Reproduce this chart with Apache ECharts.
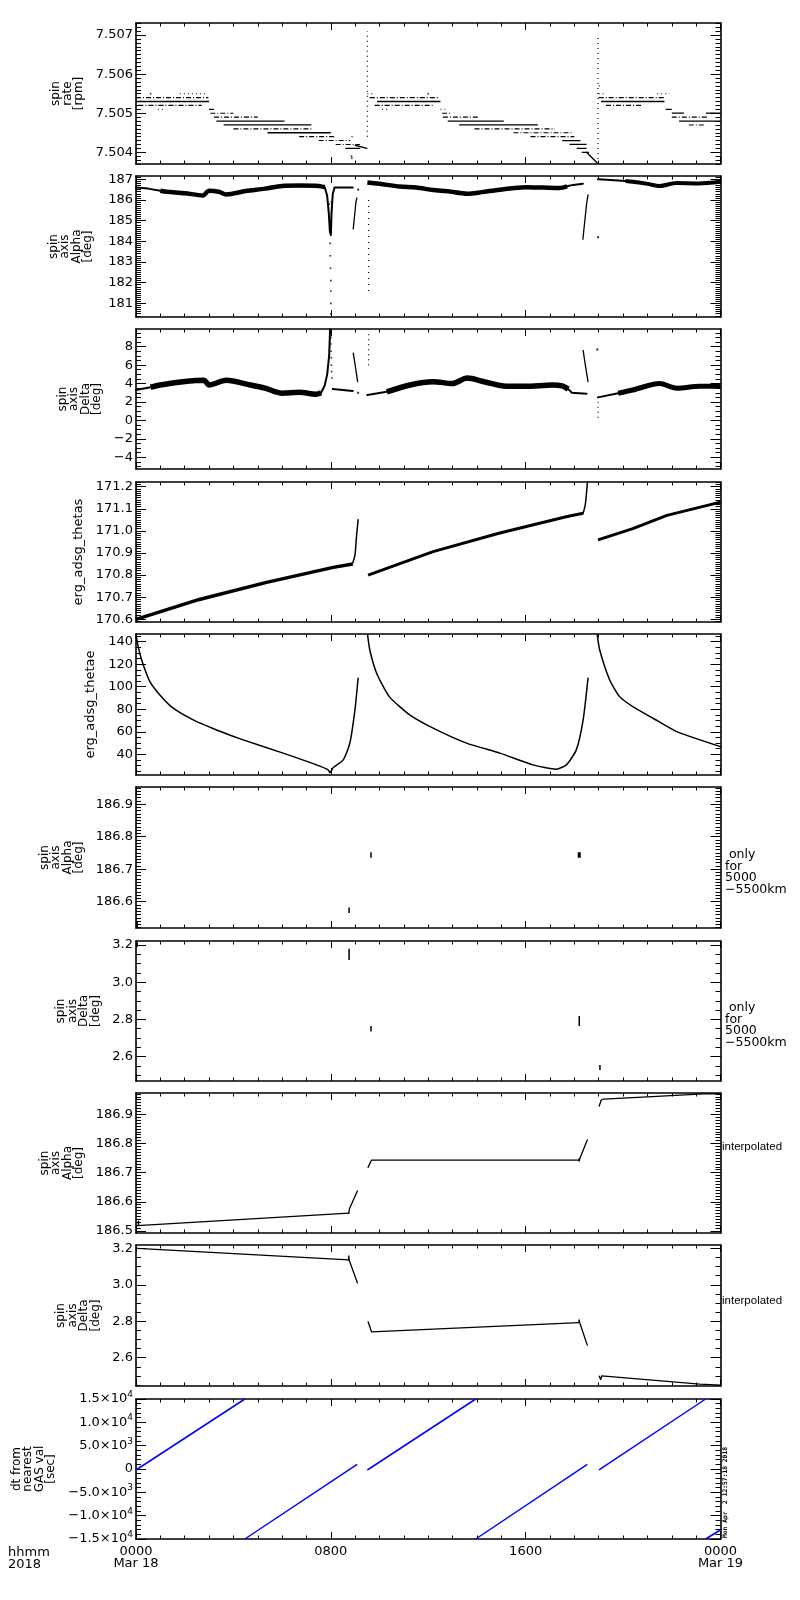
<!DOCTYPE html>
<html><head><meta charset="utf-8">
<script src="https://cdn.jsdelivr.net/npm/echarts@6/dist/echarts.min.js"></script>
<style>html,body{margin:0;padding:0;background:#fff}#c{width:800px;height:1600px}</style>
</head><body><div id="c"></div>
<script>
// ---------------- tick labels / axes data ----------------
const xTickValues = [0, 8, 16, 24];
const xTickLabels = ['0000\nMar 18', '0800', '1600', '0000\nMar 19'];
const panelNames = ['spin\nrate\n[rpm]', 'spin\naxis\nAlpha\n[deg]', 'spin\naxis\nDelta\n[deg]', 'erg_adsg_thetas', 'erg_adsg_thetae',
  'spin\naxis\nAlpha\n[deg]', 'spin\naxis\nDelta\n[deg]', 'spin\naxis\nAlpha\n[deg]', 'spin\naxis\nDelta\n[deg]', 'dt from\nnearest\nGAS val\n[sec]'];
const yMins = [7.5037, 180.34, -5.27, 170.588, 21.6, 186.519, 2.469, 186.493, 2.445, -15000];
const yMaxs = [7.50731, 187.16, 9.92, 171.221, 146.8, 186.953, 3.2215, 186.973, 3.218, 15000];
const yTickValues = [
  [7.504, 7.505, 7.506, 7.507],
  [181, 182, 183, 184, 185, 186, 187],
  [-4, -2, 0, 2, 4, 6, 8],
  [170.6, 170.7, 170.8, 170.9, 171.0, 171.1, 171.2],
  [40, 60, 80, 100, 120, 140],
  [186.6, 186.7, 186.8, 186.9],
  [2.6, 2.8, 3.0, 3.2],
  [186.5, 186.6, 186.7, 186.8, 186.9],
  [2.6, 2.8, 3.0, 3.2],
  [-15000, -10000, -5000, 0, 5000, 10000, 15000]
];
const yTickLabels = [
  ['7.504', '7.505', '7.506', '7.507'],
  ['181', '182', '183', '184', '185', '186', '187'],
  ['−4', '−2', '0', '2', '4', '6', '8'],
  ['170.6', '170.7', '170.8', '170.9', '171.0', '171.1', '171.2'],
  ['40', '60', '80', '100', '120', '140'],
  ['186.6', '186.7', '186.8', '186.9'],
  ['2.6', '2.8', '3.0', '3.2'],
  ['186.5', '186.6', '186.7', '186.8', '186.9'],
  ['2.6', '2.8', '3.0', '3.2'],
  ['−1.5×10^4', '−1.0×10^4', '−5.0×10^3', '0', '5.0×10^3', '1.0×10^4', '1.5×10^4']
];
const yMinorSteps = [0.0001, 0.1, 0.5, 0.01, 5, 0.01, 0.05, 0.01, 0.05, 1000];

// ---------------- panel 1: spin rate [rpm]  ([t0, t1, level]) ----------------
const rateSolid = [
  [0, 3.0, 7.5053], [3.0, 3.2, 7.5051], [3.3, 6.1, 7.5048], [3.6, 7.2, 7.5047], [5.4, 8.0, 7.5045], [8.6, 9.2, 7.5041],
  [9.9, 12.5, 7.5053], [12.8, 15.1, 7.5048], [13.27, 16.5, 7.5047], [17.5, 18.25, 7.5043], [17.8, 18.5, 7.5042],
  [18.1, 18.5, 7.5041], [18.3, 18.6, 7.5040],
  [19.1, 21.7, 7.5053], [21.75, 22.0, 7.5051], [22.0, 22.5, 7.5050], [23.4, 24, 7.5050], [22.3, 24, 7.5048]
];
const rateDashed = [
  [0, 2.97, 7.5054], [0.1, 2.7, 7.5052], [3.05, 4.0, 7.5050], [3.2, 5.0, 7.5049], [4.0, 7.2, 7.5046], [6.7, 8.2, 7.5044],
  [7.5, 8.8, 7.5043], [8.2, 9.2, 7.5042],
  [9.6, 12.45, 7.5054], [9.8, 12.2, 7.5052], [12.57, 12.95, 7.5050], [12.6, 14.1, 7.5049], [13.9, 17.2, 7.5046],
  [15.5, 17.9, 7.5045], [16.2, 18.0, 7.5044],
  [19.0, 21.75, 7.5054], [19.3, 20.8, 7.5052], [22.0, 23.5, 7.5049], [22.7, 23.4, 7.5047]
];
const rateDotted = [
  [1.8, 2.9, 7.5055], [0.9, 1.1, 7.5051], [9.5, 9.75, 7.5055], [10.1, 10.4, 7.5051], [12.5, 12.7, 7.5051],
  [19.0, 19.2, 7.5055], [19.0, 19.1, 7.5057], [21.4, 21.9, 7.5055], [8.85, 8.95, 7.5044]
];
const rateSlopes = [
  [[9.0, 7.50418], [9.48, 7.5041]],
  [[18.5, 7.5040], [18.95, 7.50372]]
];
const rateSpikes = [[9.5, 7.5044, 7.5071], [18.97, 7.5037, 7.5070]];
const rateDots = [[8.85, 7.5039], [8.86, 7.50385], [12.0, 7.5055], [0.6, 7.5055]];

// ---------------- panel 2: spin axis Alpha [deg] ----------------
const alphaThin1 = [[0, 186.6], [0.5, 186.55], [1.0, 186.45]];
const alphaBand1 = [[1.0, 186.45], [1.26, 186.4], [2.0, 186.33], [2.75, 186.22], [3.0, 186.45], [3.4, 186.4],
  [3.7, 186.27], [4.5, 186.43], [5.3, 186.55], [6.0, 186.68], [6.7, 186.7], [7.5, 186.68], [7.75, 186.62]];
const alphaDip = [[7.75, 186.62], [7.85, 186.2], [7.92, 185.3], [7.96, 184.5], [8.0, 184.3], [8.03, 185.4], [8.08, 186.3], [8.15, 186.58]];
const alphaDipDots = [[7.97, 183.9], [7.98, 183.3], [7.99, 182.7], [8.0, 182.1], [8.0, 181.6], [8.0, 181.0], [8.0, 180.5],
  [7.97, 184.6], [7.95, 185.0], [8.01, 184.9], [7.93, 185.8], [8.02, 185.9]];
const alphaFlat1 = [[8.15, 186.6], [8.9, 186.6]];
const alphaSteep1 = [[8.92, 184.6], [8.98, 185.3], [9.03, 185.9], [9.07, 186.1]];
const alphaDots = [[9.12, 186.5], [18.97, 184.2]];
const alphaBand2 = [[9.5, 186.85], [10.0, 186.78], [10.83, 186.65], [11.5, 186.6], [12.2, 186.48], [12.8, 186.42], [13.6, 186.3],
  [14.2, 186.38], [14.93, 186.5], [16.0, 186.62], [16.7, 186.6], [17.4, 186.58], [17.7, 186.66]];
const alphaThin2 = [[17.7, 186.66], [17.95, 186.73], [18.35, 186.79]];
const alphaSteep2 = [[18.35, 184.1], [18.42, 184.9], [18.5, 185.8], [18.56, 186.25]];
const alphaThin3 = [[18.97, 187.0], [19.5, 186.97], [20.1, 186.92]];
const alphaBand3 = [[20.1, 186.92], [20.4, 186.88], [21.0, 186.78], [21.5, 186.68], [22.2, 186.82], [23.1, 186.8], [24, 186.88]];
const alphaSpikes = [[9.55, 181.6, 186.2]];

// ---------------- panel 3: spin axis Delta [deg] ----------------
const deltaThin1 = [[0, 3.3], [0.6, 3.6]];
const deltaBand1 = [[0.6, 3.6], [1.0, 3.85], [2.1, 4.25], [2.8, 4.35], [3.0, 3.85], [3.7, 4.35], [4.7, 3.85], [5.3, 3.5],
  [6.0, 2.95], [6.7, 3.05], [7.4, 2.85], [7.6, 3.0]];
const deltaSpikeUp = [[7.6, 3.0], [7.75, 3.8], [7.85, 5.0], [7.93, 7.0], [7.97, 9.9]];
const deltaSpikeDots = [[8.0, 9.0], [8.0, 8.3], [8.01, 7.5], [8.02, 6.8], [8.02, 6.0], [8.03, 5.3], [8.04, 4.6], [7.98, 8.8], [7.96, 8.0]];
const deltaFlat1 = [[8.08, 3.4], [8.9, 3.2]];
const deltaSteep1 = [[8.92, 7.3], [9.0, 6.0], [9.1, 4.2]];
const deltaDots = [[9.12, 3.0], [18.94, 7.7]];
const deltaSpikes = [[9.55, 6.0, 9.7], [18.97, 0.3, 2.6]];
const deltaThin2 = [[9.5, 2.75], [10.3, 3.1]];
const deltaBand2 = [[10.3, 3.1], [11.25, 3.85], [12.2, 4.2], [13.0, 4.0], [13.6, 4.6], [14.3, 4.2], [15.2, 3.7],
  [16.0, 3.7], [17.1, 3.85], [17.5, 3.75], [17.75, 3.4]];
const deltaThin3 = [[17.75, 3.4], [17.9, 3.0], [18.5, 2.9]];
const deltaSteep2 = [[18.36, 7.6], [18.45, 6.0], [18.56, 4.2]];
const deltaThin4 = [[18.97, 2.5], [19.8, 2.95]];
const deltaBand3 = [[19.8, 2.95], [20.4, 3.3], [21.5, 4.0], [22.2, 3.5], [23.15, 3.7], [24, 3.7]];

// ---------------- panel 4: erg_adsg_thetas ----------------
const thetasSeg1 = [[0, 170.6], [2.6, 170.69], [5.36, 170.767], [8.1, 170.835], [8.9, 170.85]];
const thetasSteep1 = [[8.9, 170.855], [8.99, 170.89], [9.05, 170.97], [9.12, 171.05]];
const thetasSeg2 = [[9.53, 170.8], [12.2, 170.906], [14.9, 170.989], [17.66, 171.064], [18.36, 171.08]];
const thetasSteep2 = [[18.36, 171.08], [18.45, 171.12], [18.52, 171.2], [18.55, 171.24]];
const thetasSeg3 = [[18.97, 170.959], [20.4, 171.01], [21.8, 171.07], [24, 171.13]];

// ---------------- panel 5: erg_adsg_thetae ----------------
const thetaeSeg1 = [[0, 146], [0.05, 140], [0.15, 130], [0.3, 119.3], [0.57, 104.5], [0.98, 92.7], [1.53, 80.9], [2.35, 70.5],
  [3.31, 61.6], [4.4, 52.8], [6.04, 41.0], [7.41, 30.6], [7.89, 26.2], [7.96, 23.5], [8.1, 28.2], [8.51, 35], [8.78, 49.8],
  [8.99, 79.4], [9.12, 107.5]];
const thetaeSeg2 = [[9.51, 146], [9.6, 132.6], [9.88, 112], [10.4, 91.2], [11.24, 75], [12.2, 63.2], [13.57, 49.9], [14.94, 41],
  [16.3, 30.6], [17.26, 26.8], [17.67, 30.6], [18.08, 43.9], [18.36, 70.5], [18.56, 107.5]];
const thetaeSeg3 = [[18.94, 146], [19.04, 132.6], [19.45, 106], [19.86, 91.2], [20.4, 82.3], [21.23, 72], [22.2, 60.1], [24, 46.8]];

// ---------------- panels 6/7: only for 5000-5500km  ([t, low, high]) ----------------
const alphaOnly = [[0.05, 186.522, 186.538], [8.75, 186.565, 186.582], [9.65, 186.735, 186.752], [18.2, 186.735, 186.752]];
const deltaOnly = [[0.05, 3.19, 3.215], [8.75, 3.12, 3.18], [9.65, 2.735, 2.765], [18.2, 2.765, 2.818], [19.05, 2.528, 2.555]];

// ---------------- panel 8: interpolated Alpha ----------------
const alphaInterp1 = [[0.05, 186.518], [8.74, 186.561]];
const alphaInterpSteep1 = [[8.74, 186.561], [8.76, 186.575], [9.09, 186.637]];
const alphaInterp2 = [[9.53, 186.718], [9.67, 186.743], [18.2, 186.743]];
const alphaInterpSteep2 = [[18.2, 186.743], [18.53, 186.812]];
const alphaInterp3 = [[19.02, 186.928], [19.1, 186.949], [19.2, 186.952], [21.0, 186.96], [23.3, 186.97], [24, 186.97]];
const alphaInterpTicks = [[0.1, 186.52, 186.535], [18.2, 186.738, 186.75]];

// ---------------- panel 9: interpolated Delta ----------------
const deltaInterp1 = [[0.05, 3.2], [8.74, 3.136]];
const deltaInterpSteep1 = [[8.74, 3.14], [9.09, 3.011]];
const deltaInterp2 = [[9.53, 2.797], [9.67, 2.742], [9.7, 2.752], [18.2, 2.792]];
const deltaInterpSteep2 = [[18.2, 2.8], [18.53, 2.669]];
const deltaInterp3 = [[19.02, 2.499], [19.08, 2.48], [19.12, 2.5], [23.15, 2.455], [24, 2.45]];
const deltaInterpTicks = [[8.74, 3.13, 3.16], [18.2, 2.79, 2.81]];

// ---------------- panel 10: dt from nearest GAS val [sec] ----------------
const dtSegments = [
  [[0, -214], [4.47, 15000]],
  [[4.47, -15000], [9.08, 1000]],
  [[9.5, -214], [13.95, 15000]],
  [[13.95, -15000], [18.53, 1000]],
  [[19.01, -214], [23.39, 15000]],
  [[23.39, -15000], [23.99, -13071]]
];

// ---------------- layout ----------------
const panelTops = [23, 176, 329, 482, 634, 787, 941, 1093, 1245, 1399];
const panelHeights = [141, 141, 140, 140, 141, 141, 140, 140, 141, 140];
const nameGaps = [47, 42, 29, 50, 38, 49, 32, 49, 32, 71];
const FONT = 'DejaVu Sans';
const INK = '#000';

function minorValues(min, max, step) {
  const out = [];
  const k0 = Math.ceil(min / step - 1e-6), k1 = Math.floor(max / step + 1e-6);
  for (let k = k0; k <= k1; k++) out.push(+(k * step).toPrecision(12));
  return out;
}
const hourTicks = minorValues(0, 24, 1);

const grids = [], xAxes = [], yAxes = [], series = [];

function labelFor(list, labels, v) {
  let best = 0, bd = Infinity;
  list.forEach((t, j) => { const d = Math.abs(t - v); if (d < bd) { bd = d; best = j; } });
  return labels[best];
}

for (let i = 0; i < 10; i++) {
  grids.push({ left: 136, width: 584.5, top: panelTops[i], height: panelHeights[i], containLabel: false, outerBoundsMode: 'none' });
  const isLast = i === 9;
  const line = { show: true, onZero: false, lineStyle: { color: INK, width: 1.6 } };
  const noLine = { show: false, onZero: false };
  const tk = (vals, len) => ({ show: true, inside: true, length: len, customValues: vals, lineStyle: { color: INK, width: 1 } });
  const xLabel = isLast ? {
    show: true, customValues: xTickValues, margin: 7, color: INK, fontFamily: FONT, fontSize: 13, lineHeight: 12,
    showMinLabel: true, showMaxLabel: true, hideOverlap: false,
    formatter: v => labelFor(xTickValues, xTickLabels, v)
  } : { show: false };
  const xb = { type: 'value', gridIndex: i, min: 0, max: 24, splitLine: { show: false } };
  xAxes.push(Object.assign({}, xb, { position: 'bottom', axisLine: line, axisTick: tk(xTickValues, 7), axisLabel: xLabel }));
  xAxes.push(Object.assign({}, xb, { position: 'bottom', axisLine: noLine, axisTick: tk(hourTicks, 3.5), axisLabel: { show: false } }));
  xAxes.push(Object.assign({}, xb, { position: 'top', axisLine: line, axisTick: tk(xTickValues, 7), axisLabel: { show: false } }));
  xAxes.push(Object.assign({}, xb, { position: 'top', axisLine: noLine, axisTick: tk(hourTicks, 3.5), axisLabel: { show: false } }));

  const minors = minorValues(yMins[i], yMaxs[i], yMinorSteps[i]);
  const ticks = yTickValues[i], labs = yTickLabels[i];
  const yb = { type: 'value', gridIndex: i, min: yMins[i], max: yMaxs[i], splitLine: { show: false }, scale: true };
  const yLabel = {
    show: true, customValues: ticks, margin: 3, color: INK, fontFamily: FONT, fontSize: 13,
    showMinLabel: true, showMaxLabel: true, hideOverlap: false,
    formatter: v => {
      const s = labelFor(ticks, labs, v);
      const m = s.split('^');
      return m.length > 1 ? '{a|' + m[0] + '}{s|' + m[1] + '}' : '{a|' + s + '}';
    },
    rich: {
      a: { fontSize: 13, fontFamily: FONT, color: INK, lineHeight: 18 },
      s: { fontSize: 9, fontFamily: FONT, color: INK, lineHeight: 8, verticalAlign: 'top' }
    }
  };
  yAxes.push(Object.assign({}, yb, {
    position: 'left', axisLine: line, axisTick: tk(ticks, 10), axisLabel: yLabel,
    name: panelNames[i], nameLocation: 'middle', nameRotate: 90, nameGap: nameGaps[i],
    nameTextStyle: { color: INK, fontFamily: FONT, fontSize: (i === 3 || i === 4) ? 13 : 12, lineHeight: 11.5 }
  }));
  yAxes.push(Object.assign({}, yb, { position: 'left', axisLine: noLine, axisTick: tk(minors, 5), axisLabel: { show: false } }));
  yAxes.push(Object.assign({}, yb, { position: 'right', axisLine: line, axisTick: tk(ticks, 10), axisLabel: { show: false } }));
  yAxes.push(Object.assign({}, yb, { position: 'right', axisLine: noLine, axisTick: tk(minors, 5), axisLabel: { show: false } }));
}

function addLine(p, pts, width, type, color, smooth, cap) {
  series.push({
    type: 'line', xAxisIndex: p * 4, yAxisIndex: p * 4, data: pts, showSymbol: false, symbol: 'none',
    smooth: smooth || false,
    lineStyle: { color: color || INK, width: width, type: type || 'solid', cap: cap || 'round', join: 'round' },
    animation: false, silent: true, clip: true, z: 3
  });
}
function addDots(p, pts, size) {
  series.push({
    type: 'scatter', xAxisIndex: p * 4, yAxisIndex: p * 4, data: pts, symbol: 'rect', symbolSize: size,
    itemStyle: { color: INK }, animation: false, silent: true, z: 3
  });
}
const levelPts = s => [[s[0], s[2]], [s[1], s[2]]];
const vertPts = s => [[s[0], s[1]], [s[0], s[2]]];

// panel 1
rateSolid.forEach(s => addLine(0, levelPts(s), 1.3, 'solid', null, false, 'butt'));
rateDashed.forEach(s => addLine(0, levelPts(s), 1.1, [5, 2, 1, 2], null, false, 'butt'));
rateDotted.forEach(s => addLine(0, levelPts(s), 1.1, [1, 3], null, false, 'butt'));
rateSlopes.forEach(s => addLine(0, s, 1.3));
rateSpikes.forEach(s => addLine(0, vertPts(s), 1.2, [1, 4], null, false, 'butt'));
addDots(0, rateDots, 1.6);

// panel 2
addLine(1, alphaThin1, 2);
addLine(1, alphaBand1, 4.5, 'solid', null, 0.3, 'butt');
addLine(1, alphaDip, 2);
addDots(1, alphaDipDots, 1.6);
addLine(1, alphaFlat1, 2);
addLine(1, alphaSteep1, 1.3);
addDots(1, alphaDots, 2);
addLine(1, alphaBand2, 4.5, 'solid', null, 0.3, 'butt');
addLine(1, alphaThin2, 2);
addLine(1, alphaSteep2, 1.3);
addLine(1, alphaThin3, 2);
addLine(1, alphaBand3, 4, 'solid', null, 0.3, 'butt');
alphaSpikes.forEach(s => addLine(1, vertPts(s), 1.2, [1, 5], null, false, 'butt'));

// panel 3
addLine(2, deltaThin1, 2);
addLine(2, deltaBand1, 5.5, 'solid', null, 0.3, 'butt');
addLine(2, deltaSpikeUp, 2);
addDots(2, deltaSpikeDots, 1.6);
addLine(2, deltaFlat1, 2);
addLine(2, deltaSteep1, 1.3);
addDots(2, deltaDots, 2);
deltaSpikes.forEach(s => addLine(2, vertPts(s), 1.2, [1, 4], null, false, 'butt'));
addLine(2, deltaThin2, 2);
addLine(2, deltaBand2, 5.5, 'solid', null, 0.3, 'butt');
addLine(2, deltaThin3, 2);
addLine(2, deltaSteep2, 1.3);
addLine(2, deltaThin4, 2);
addLine(2, deltaBand3, 5, 'solid', null, 0.3, 'butt');

// panel 4
addLine(3, thetasSeg1, 3.5, 'solid', null, false, 'butt');
addLine(3, thetasSteep1, 1.5, 'solid', null, 0.3);
addLine(3, thetasSeg2, 3, 'solid', null, false, 'butt');
addLine(3, thetasSteep2, 1.5, 'solid', null, 0.3);
addLine(3, thetasSeg3, 3, 'solid', null, false, 'butt');

// panel 5
addLine(4, thetaeSeg1, 1.5, 'solid', null, 0.2);
addLine(4, thetaeSeg2, 1.5, 'solid', null, 0.2);
addLine(4, thetaeSeg3, 1.5, 'solid', null, 0.2);

// panels 6/7
alphaOnly.forEach((s, j) => addLine(5, vertPts(s), j === 3 ? 3 : 1.5, 'solid', null, false, 'butt'));
deltaOnly.forEach(s => addLine(6, vertPts(s), 1.5, 'solid', null, false, 'butt'));

// panel 8
addLine(7, alphaInterp1, 1.3);
addLine(7, alphaInterpSteep1, 1.3);
addLine(7, alphaInterp2, 1.3);
addLine(7, alphaInterpSteep2, 1.3);
addLine(7, alphaInterp3, 1.3);
alphaInterpTicks.forEach(s => addLine(7, vertPts(s), 1.5, 'solid', null, false, 'butt'));

// panel 9
addLine(8, deltaInterp1, 1.3);
addLine(8, deltaInterpSteep1, 1.3);
addLine(8, deltaInterp2, 1.3);
addLine(8, deltaInterpSteep2, 1.3);
addLine(8, deltaInterp3, 1.3);
deltaInterpTicks.forEach(s => addLine(8, vertPts(s), 1.5, 'solid', null, false, 'butt'));

// panel 10
dtSegments.forEach(s => addLine(9, s, 1.5, 'solid', '#0000ff', false, 'butt'));

const txt = (x, y, text, opts) => Object.assign({
  type: 'text', x: x, y: y, silent: true,
  style: Object.assign({ text: text, fill: INK, font: '13px "DejaVu Sans"', lineHeight: 11.5, align: 'left', verticalAlign: 'top' }, opts || {})
});

const chart = echarts.init(document.getElementById('c'), null, { renderer: 'canvas', width: 800, height: 1600 });
chart.setOption({
  backgroundColor: '#fff',
  animation: false,
  grid: grids, xAxis: xAxes, yAxis: yAxes, series: series,
  graphic: [
    txt(8, 1547, 'hhmm\n2018', { lineHeight: 12 }),
    txt(725, 849, ' only\nfor\n5000\n−5500km', { font: '12.5px "DejaVu Sans"' }),
    txt(725, 1002, ' only\nfor\n5000\n−5500km', { font: '12.5px "DejaVu Sans"' }),
    txt(722, 1141, 'interpolated', { font: '11.5px "Liberation Sans"' }),
    txt(722, 1295, 'interpolated', { font: '11.5px "Liberation Sans"' }),
    { type: 'text', x: 728, y: 1538, rotation: Math.PI / 2, silent: true,
      style: { text: 'Mon Apr  2 12:57:18 2018', fill: INK, font: 'bold 6.3px "DejaVu Sans Mono"', align: 'left', verticalAlign: 'bottom' } }
  ]
});
</script>
</body></html>
